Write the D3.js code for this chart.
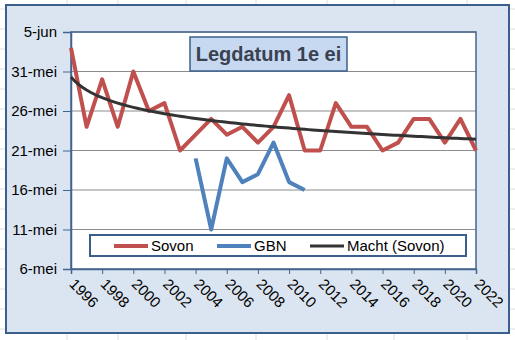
<!DOCTYPE html>
<html><head><meta charset="utf-8">
<script src="https://cdn.jsdelivr.net/npm/d3@7"></script>
<style>html,body{margin:0;padding:0;background:#fff;}svg{display:block;font-family:"Liberation Sans",Arial,sans-serif;}</style>
</head><body>
<svg id="c" width="515" height="340"></svg>
<script>
// ---- data ----
const years = d3.range(1996, 2023);
// day-of-May (32 = 1 jun)
const sovon = [34,24,30,24,31,26,27,21,23,25,23,24,22,24,28,21,21,27,24,24,21,22,25,25,22,25,21];
const gbnYears = [2004,2005,2006,2007,2008,2009,2010,2011];
const gbn = [20,11,20,17,18,22,17,16];
const yTicks = [6,11,16,21,26,31,36];
const yTickLabels = ["6-mei","11-mei","16-mei","21-mei","26-mei","31-mei","5-jun"];
const xTicks = d3.range(1996, 2023, 2);
const seriesNames = ["Sovon","GBN","Macht (Sovon)"];
const title = "Legdatum 1e ei";

const svg = d3.select("#c");
const W = 515, H = 340;

// spreadsheet background grid
const sheet = svg.append("g");
[67,118,186,256,327,394,467].forEach(x => sheet.append("line").attr("x1",x).attr("x2",x).attr("y1",0).attr("y2",H).attr("stroke","#dedede"));
d3.range(9, H, 20).forEach(y => sheet.append("line").attr("x1",0).attr("x2",W).attr("y1",y).attr("y2",y).attr("stroke","#dedede"));

// chart area
svg.append("rect").attr("x",6).attr("y",5).attr("width",503).attr("height",328)
  .attr("fill","#dbe5f1").attr("stroke","#3b5f8c").attr("stroke-width",2);

const x = d3.scaleLinear().domain([1996,2022]).range([71,476]);
const y = d3.scaleLinear().domain([6,36]).range([269,32]);

// plot area
svg.append("rect").attr("x",71).attr("y",32).attr("width",405).attr("height",237).attr("fill","#fff");

// gridlines
svg.append("g").selectAll("line").data(yTicks.slice(1)).join("line")
  .attr("x1",71).attr("x2",476).attr("y1",d=>y(d)).attr("y2",d=>y(d))
  .attr("stroke","#8c8c8c").attr("stroke-width",1);

// plot border
svg.append("rect").attr("x",71).attr("y",32).attr("width",405).attr("height",237)
  .attr("fill","none").attr("stroke","#44648f").attr("stroke-width",1.5);

// y axis
const yAxis = d3.axisLeft(y).tickValues(yTicks).tickFormat((d,i)=>yTickLabels[i]).tickSize(8).tickPadding(6);
const gy = svg.append("g").attr("transform","translate(71,0)").call(yAxis);
gy.select(".domain").attr("stroke","#44648f").attr("stroke-width",1.5);
gy.selectAll(".tick line").attr("stroke","#44648f");
gy.selectAll("text").attr("font-size",15).attr("fill","#000").attr("font-family","Liberation Sans, Arial, sans-serif");

// x axis
const xAxis = d3.axisBottom(x).tickValues(xTicks).tickFormat(d3.format("d")).tickSize(5);
const gx = svg.append("g").attr("transform","translate(0,269)").call(xAxis);
gx.select(".domain").attr("stroke","#44648f").attr("stroke-width",1.5);
gx.selectAll(".tick line").attr("stroke","#44648f");
gx.selectAll("text").attr("font-size",15).attr("fill","#000").attr("font-family","Liberation Sans, Arial, sans-serif")
  .attr("text-anchor","start").attr("y",0).attr("dy",0)
  .attr("transform","translate(-3,16) rotate(45)");

// power trend (Excel-style: fit ln(y) on ln(x) with dates as serial numbers)
const base = 45046; // serial of 30-apr
const lx = sovon.map((_,i)=>Math.log(i+1));
const ly = sovon.map(v=>Math.log(base+v));
const mx = d3.mean(lx), my = d3.mean(ly);
const b = d3.sum(lx.map((v,i)=>(v-mx)*(ly[i]-my))) / d3.sum(lx.map(v=>(v-mx)*(v-mx)));
const a = Math.exp(my - b*mx);
const trend = d3.range(1, 27.01, 0.25).map(t => [1995+t, a*Math.pow(t,b)-base]);

const line = d3.line().x(d=>x(d[0])).y(d=>y(d[1]));

svg.append("path").datum(years.map((yr,i)=>[yr,sovon[i]])).attr("d",line)
  .attr("fill","none").attr("stroke","#c0504d").attr("stroke-width",4).attr("stroke-linejoin","round");
svg.append("path").datum(gbnYears.map((yr,i)=>[yr,gbn[i]])).attr("d",line)
  .attr("fill","none").attr("stroke","#4f81bd").attr("stroke-width",4).attr("stroke-linejoin","round");
svg.append("path").datum(trend).attr("d",line)
  .attr("fill","none").attr("stroke","#333333").attr("stroke-width",3);

// title box
svg.append("rect").attr("x",190).attr("y",37).attr("width",157).attr("height",34)
  .attr("fill","#c6d9f1").attr("stroke","#3b5f8c").attr("stroke-width",1.5);
svg.append("text").attr("x",268.5).attr("y",61).attr("text-anchor","middle")
  .attr("font-size",20).attr("font-weight","bold").attr("fill","#3a4150").text(title);

// legend
svg.append("rect").attr("x",90).attr("y",235).attr("width",376).attr("height",21)
  .attr("fill","#fff").attr("stroke","#3b5f8c").attr("stroke-width",2);
const leg = [
  {name:seriesNames[0], color:"#c0504d", w:4, x0:114},
  {name:seriesNames[1], color:"#4f81bd", w:4, x0:217},
  {name:seriesNames[2], color:"#333333", w:3, x0:310}
];
leg.forEach(l=>{
  svg.append("line").attr("x1",l.x0).attr("x2",l.x0+34).attr("y1",246).attr("y2",246)
    .attr("stroke",l.color).attr("stroke-width",l.w);
  svg.append("text").attr("x",l.x0+37).attr("y",251).attr("font-size",15).attr("fill","#000").text(l.name);
});
</script>
</body></html>
